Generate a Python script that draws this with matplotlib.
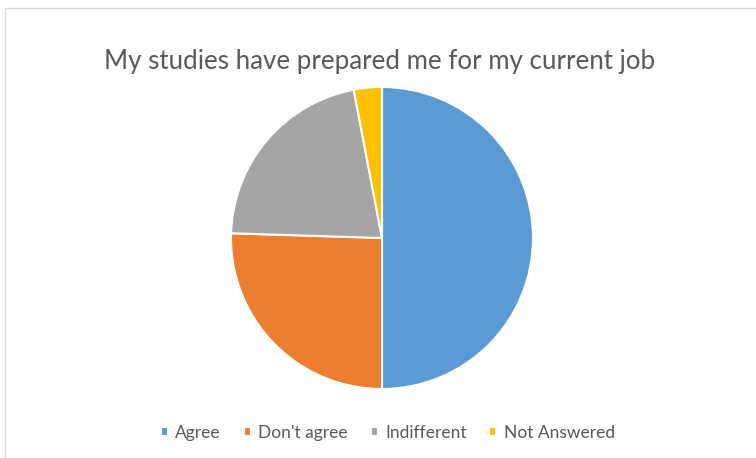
import matplotlib.pyplot as plt
from matplotlib.patches import Rectangle

# survey answers (percent of respondents)
labels = ["Agree", "Don't agree", "Indifferent", "Not Answered"]
shares = [50.0, 25.5, 21.5, 3.0]
colors = ["#5B9BD5", "#ED7D31", "#A5A5A5", "#FFC000"]

W, H = 756, 458
fig = plt.figure(figsize=(W / 100, H / 100), dpi=100)
plt.rcParams['font.family'] = ['Lato', 'DejaVu Sans']

# chart area frame (open to the right and bottom)
fig.patches.append(Rectangle((5 / W, -0.1), 1.2, (H - 8) / H + 0.1,
                             transform=fig.transFigure, fill=False,
                             edgecolor="#D9D9D9", linewidth=1.0))

# pie placed by its center and radius in pixels
cx, cy, r = 382, 238, 151
ax = fig.add_axes([(cx - r) / W, (H - cy - r) / H, 2 * r / W, 2 * r / H])
wedges, _ = ax.pie(shares, colors=colors, startangle=90, counterclock=False,
                   radius=1.0, wedgeprops=dict(edgecolor="white", linewidth=1.5))
ax.set_xlim(-1.0, 1.0)
ax.set_ylim(-1.0, 1.0)
ax.set_aspect("equal")
ax.axis("off")

fig.text(380 / W, 1 - 62 / H, "My studies have prepared me for my current job",
         ha="center", va="center", fontsize=18.6, color="#595959")

fig.legend(wedges, labels, loc="center", bbox_to_anchor=(388 / W, 1 - 433 / H),
           ncol=4, frameon=False, fontsize=12.5, labelcolor="#595959",
           handlelength=0.4, handleheight=0.4, handletextpad=0.45,
           columnspacing=1.3)

fig.savefig("out.png", dpi=100, facecolor="white")
